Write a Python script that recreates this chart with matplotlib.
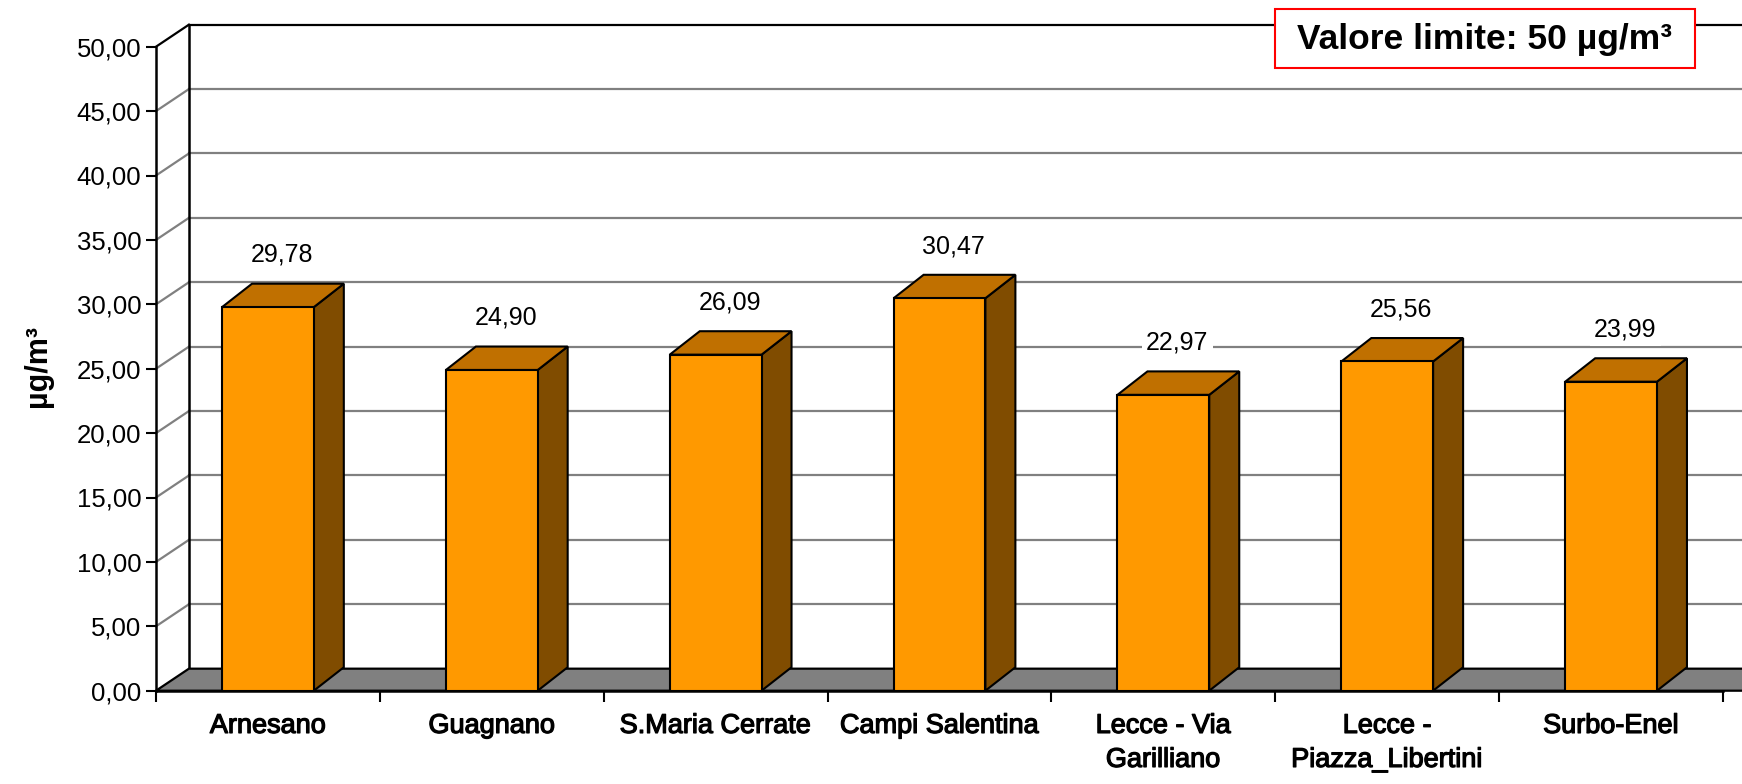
import matplotlib
matplotlib.use("Agg")
import matplotlib.pyplot as plt
import matplotlib.patheffects as pe
from matplotlib.patches import Polygon, Rectangle

stations = ["Arnesano", "Guagnano", "S.Maria Cerrate", "Campi Salentina",
            "Lecce - Via\nGarilliano", "Lecce -\nPiazza_Libertini", "Surbo-Enel"]
values = [29.78, 24.90, 26.09, 30.47, 22.97, 25.56, 23.99]
yticks = [0, 5, 10, 15, 20, 25, 30, 35, 40, 45, 50]

FRONT = "#FF9900"
TOP = "#C07000"
SIDE = "#804C00"
FLOOR = "#808080"
GRID = "#808080"

# 3d depth (data units)
dxw, dyw = 0.147, 1.71   # walls / floor
dxb, dyb = 0.134, 1.82   # bars
bw = 0.41

fig = plt.figure(figsize=(17.42, 7.84), dpi=100)
ax = fig.add_axes([156 / 1742, (784 - 690.7) / 784, 1567 / 1742, 644 / 784])
ax.set_xlim(-0.5, len(values) - 0.5)
ax.set_ylim(0, 50)
for s in ax.spines.values():
    s.set_visible(False)

x0 = -0.5
x1 = len(values) - 0.5

# back wall grid + side diagonals
for y in yticks[1:]:
    c = "black" if y == 50 else GRID
    ax.plot([x0 + dxw, x1 + 1], [y + dyw, y + dyw], color=c, lw=1.6, clip_on=False, zorder=1)
    ax.plot([x0, x0 + dxw], [y, y + dyw], color=c, lw=1.6, clip_on=False, zorder=1)
ax.plot([x0 + dxw, x0 + dxw], [dyw, 50 + dyw], color="black", lw=1.8, clip_on=False, zorder=1)
ax.plot([x0, x0], [0, 50], color="black", lw=1.8, clip_on=False, zorder=5)

# floor
ax.add_patch(Polygon([(x0, 0), (x1 + 0.5, 0), (x1 + 0.5 + dxw, dyw), (x0 + dxw, dyw)],
                     closed=True, fc=FLOOR, ec="black", lw=1.6, clip_on=False, zorder=2))
ax.plot([x0, x1], [0, 0], color="black", lw=1.8, clip_on=False, zorder=2)

# bars
xs = list(range(len(values)))
bars = ax.bar(xs, values, width=bw, color=FRONT, edgecolor="black", linewidth=1.5, zorder=4)
for x, v in zip(xs, values):
    l, r = x - bw / 2, x + bw / 2
    ax.add_patch(Polygon([(r, 0), (r + dxb, dyb), (r + dxb, v + dyb), (r, v)],
                         closed=True, fc=SIDE, ec="black", lw=1.5, zorder=3))
    ax.add_patch(Polygon([(l, v), (r, v), (r + dxb, v + dyb), (l + dxb, v + dyb)],
                         closed=True, fc=TOP, ec="black", lw=1.5, zorder=3))
    ax.text(x + 0.0625, v + 4.05, f"{v:.2f}".replace(".", ","), ha="center", va="center",
            fontsize=18, family="Liberation Sans", zorder=10,
            bbox=dict(fc="white", ec="none", pad=3))

# y axis
ax.set_yticks(yticks)
ax.set_yticklabels([f"{y:.2f}".replace(".", ",") for y in yticks],
                   fontsize=18.5, family="Liberation Sans")
ax.tick_params(axis="y", direction="out", length=7.5, width=1.5, pad=3)

# x axis: boundary ticks, labels at centres
ax.set_xticks([i - 0.5 for i in range(len(values) + 1)])
ax.set_xticklabels([])
ax.tick_params(axis="x", which="major", direction="out", length=8, width=1.5)
ax.set_xticks(xs, minor=True)
ax.set_xticklabels(stations, minor=True, fontsize=19.5,
                   family="Liberation Sans", linespacing=1.4)
for t in ax.get_xticklabels(minor=True):
    t.set_path_effects([pe.withStroke(linewidth=0.9, foreground="black")])
ax.tick_params(axis="x", which="minor", length=0, pad=16)

fig.text(38 / 1742, 1 - 366 / 784, "µg/m³", rotation=90, ha="center", va="center",
         fontsize=22, fontweight="bold", family="Liberation Sans")

# limit box
fig.patches.append(Rectangle((1275 / 1742, 1 - 68 / 784), 420 / 1742, 59 / 784,
                             transform=fig.transFigure, fc="white", ec="red", lw=1.5, zorder=20))
fig.text(1484 / 1742, 1 - 39 / 784, "Valore limite: 50 µg/m³", ha="center", va="center",
         fontsize=25.5, fontweight="bold", family="Liberation Sans", zorder=21)

fig.savefig("out.png", dpi=100)
